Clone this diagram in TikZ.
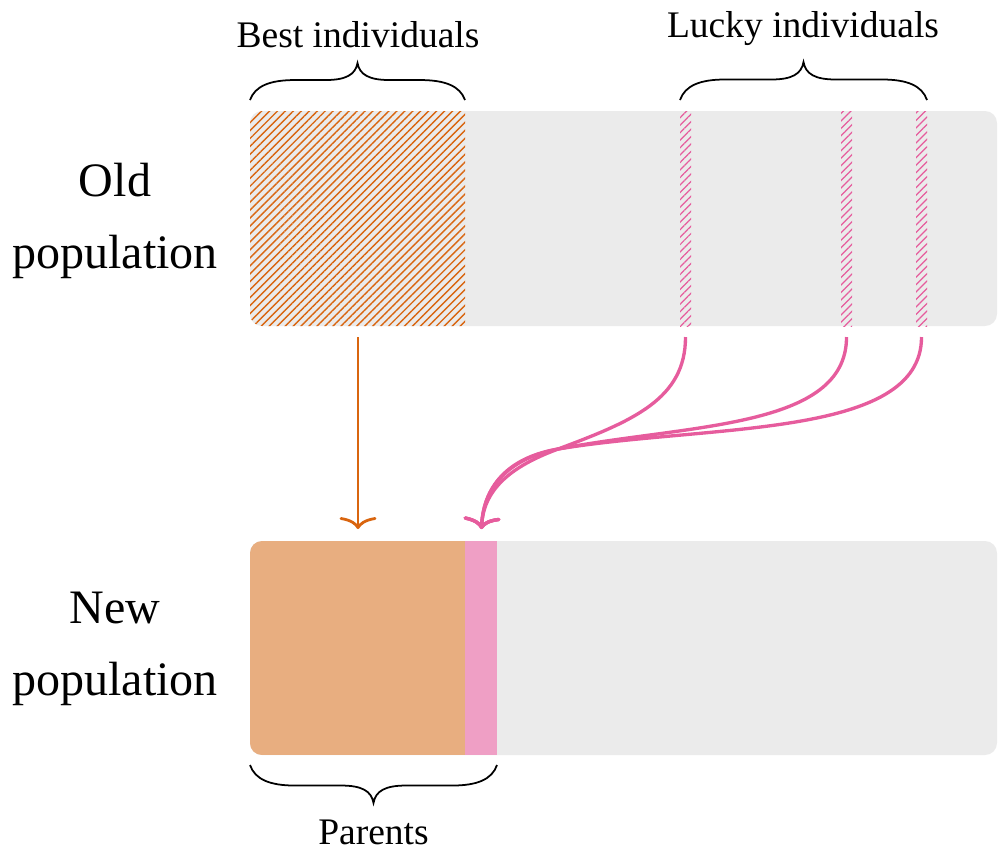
\documentclass[tikz,border=0pt]{standalone}
\usepackage{fontspec}
\setmainfont{Liberation Serif}
\usetikzlibrary{patterns.meta,arrows.meta}

\definecolor{barGray}{HTML}{EBEBEB}
\definecolor{bestOrange}{HTML}{D9650F}
\definecolor{bestFill}{HTML}{E8AE80}
\definecolor{luckyPink}{HTML}{E65C9D}
\definecolor{luckyFill}{HTML}{EF9FC5}

% curly brace: left x, right x, y of the ends, signed height of the tip
\newcommand\curlybrace[4]{%
  \pgfmathsetmacro\bxm{(#1+#2)/2}%
  \pgfmathsetmacro\bya{#3+0.38*#4}%
  \pgfmathsetmacro\byb{#3+0.54*#4}%
  \pgfmathsetmacro\byc{#3+0.68*#4}%
  \pgfmathsetmacro\byd{#3+#4}%
  \draw[bracestyle] (#1,#3) .. controls (#1+5,\bya) and (#1+20,\byb) .. (#1+45,\byb)
    -- (\bxm-32,\byb) .. controls (\bxm-12,\byb) and (\bxm-2,\byc) .. (\bxm,\byd)
    .. controls (\bxm+2,\byc) and (\bxm+12,\byb) .. (\bxm+32,\byb)
    -- (#2-45,\byb) .. controls (#2-20,\byb) and (#2-5,\bya) .. (#2,#3);}

\begin{document}
\begin{tikzpicture}[x=0.01cm,y=-0.01cm,
  bar/.style={fill=barGray, rounded corners=3.4pt},
  barclip/.style={rounded corners=3.4pt},
  besthatch/.style={pattern={Lines[angle=45,distance=1.6pt,line width=0.4pt]}, pattern color=bestOrange},
  luckyhatch/.style={pattern={Lines[angle=45,distance=1.5pt,line width=0.35pt]}, pattern color=luckyPink},
  bracestyle/.style={draw=black, line width=0.5pt},
  poplabel/.style={align=center, inner sep=0pt, font=\fontsize{13.66pt}{20.3pt}\selectfont},
  grouplabel/.style={inner sep=0pt, font=\fontsize{10.67pt}{13pt}\selectfont, anchor=base},
  tipstyle/.style={-{To[length=3.4pt,width=10.5pt]}},
  bestarrow/.style={draw=bestOrange, line width=0.8pt, tipstyle},
  luckyarrow/.style={draw=luckyPink, line width=0.95pt, tipstyle}]

\useasboundingbox (0,0) rectangle (998,850);

% old population bar with the selected individuals hatched
\fill[bar] (250,111) rectangle (997,326);
\begin{scope}
  \clip[barclip] (250,111) rectangle (997,326);
  \fill[besthatch] (250,111) rectangle (465,326);
\end{scope}
\fill[luckyhatch] (680,111) rectangle (691,326);
\fill[luckyhatch] (841,111) rectangle (852,326);
\fill[luckyhatch] (916,111) rectangle (927,326);

% new population bar
\fill[bar] (250,541) rectangle (997,755);
\begin{scope}
  \clip[barclip] (250,541) rectangle (997,755);
  \fill[bestFill] (250,541) rectangle (465,755);
  \fill[luckyFill] (465,541) rectangle (497,755);
\end{scope}

% row labels
\node[poplabel] (oldlabel) at (115,221) {Old\\population};
\node[poplabel] (newlabel) at (115,649) {New\\population};

% braces and group labels
\curlybrace{250}{465}{100}{-37}
\curlybrace{680}{927}{100}{-38}
\curlybrace{250}{497}{765}{38}
\node[grouplabel] (bestlabel) at (358,47) {Best individuals};
\node[grouplabel] (luckylabel) at (803,37) {Lucky individuals};
\node[grouplabel] (parentlabel) at (373.5,844) {Parents};

% connector end points
\coordinate (bestsrc) at (358,337);
\coordinate (besttgt) at (358,529);
\coordinate (luckyA) at (685.5,337);
\coordinate (luckyB) at (846.5,337);
\coordinate (luckyC) at (921.5,337);
\coordinate (merge) at (558,449);
\coordinate (luckytgt) at (481.5,529);

% best individuals are copied straight down
\draw[bestarrow] (bestsrc) -- (besttgt);

% lucky individuals join into the parents
\draw[luckyarrow] (luckyA) .. controls +(0,62) and +(75,-28) .. (merge)
  .. controls +(-40,15) and +(2,-44) .. (luckytgt);
\draw[luckyarrow] (luckyB) .. controls +(0,92) and +(130,-25) .. (merge)
  .. controls +(-45,8.7) and +(2,-46) .. (luckytgt);
\draw[luckyarrow] (luckyC) .. controls +(0,102) and +(150,-25) .. (merge)
  .. controls +(-45,7.5) and +(2,-47) .. (luckytgt);
\end{tikzpicture}
\end{document}
